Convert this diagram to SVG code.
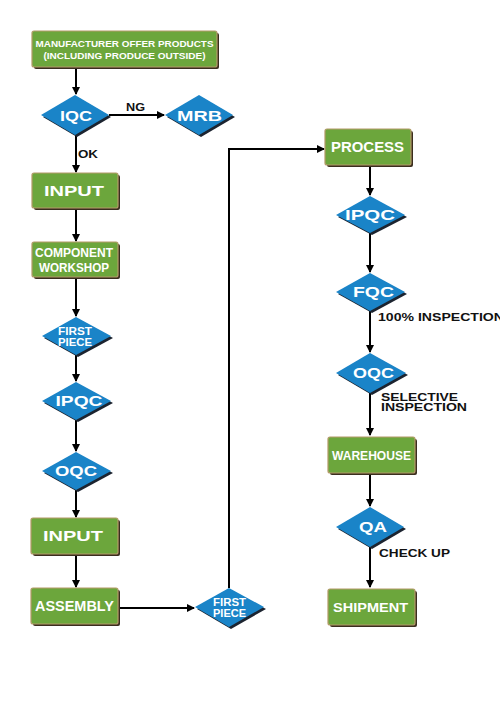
<svg xmlns="http://www.w3.org/2000/svg" width="500" height="714" viewBox="0 0 500 714">
<defs>
<style>
.box{fill:#6ca63c;stroke:#b49a68;stroke-width:1.2}
.bsh{fill:#3a2e1e}
.dia{fill:#1a84c8}
.dsh{fill:#1c2430}
.t{fill:#fff;font-family:"Liberation Sans",Arial,sans-serif;font-weight:bold;text-anchor:middle}
.lbl{fill:#111;font-family:"Liberation Sans",Arial,sans-serif;font-weight:bold}
.c{stroke:#000;stroke-width:2;fill:none}
</style>
<marker id="ah" markerWidth="8" markerHeight="8" refX="7" refY="4" orient="auto" markerUnits="userSpaceOnUse">
<path d="M0,0 L8,4 L0,8 Z" fill="#000"/>
</marker>
</defs>
<rect width="500" height="714" fill="#fff"/>

<g id="connectors">
<line class="c" x1="76" y1="67" x2="76" y2="94" marker-end="url(#ah)"/>
<line class="c" x1="109" y1="115" x2="164" y2="115" marker-end="url(#ah)"/>
<line class="c" x1="76" y1="135" x2="76" y2="172" marker-end="url(#ah)"/>
<line class="c" x1="76" y1="208" x2="76" y2="241" marker-end="url(#ah)"/>
<line class="c" x1="76" y1="277" x2="76" y2="316" marker-end="url(#ah)"/>
<line class="c" x1="76" y1="355" x2="76" y2="381" marker-end="url(#ah)"/>
<line class="c" x1="76" y1="420" x2="76" y2="451" marker-end="url(#ah)"/>
<line class="c" x1="76" y1="490" x2="76" y2="517" marker-end="url(#ah)"/>
<line class="c" x1="76" y1="554" x2="76" y2="587" marker-end="url(#ah)"/>
<line class="c" x1="118" y1="608" x2="194" y2="608" marker-end="url(#ah)"/>
<polyline class="c" points="229,588 229,149 324,149" marker-end="url(#ah)"/>
<line class="c" x1="370" y1="165" x2="370" y2="195" marker-end="url(#ah)"/>
<line class="c" x1="370" y1="233" x2="370" y2="272" marker-end="url(#ah)"/>
<line class="c" x1="370" y1="311" x2="370" y2="352" marker-end="url(#ah)"/>
<line class="c" x1="370" y1="393" x2="370" y2="435" marker-end="url(#ah)"/>
<line class="c" x1="370" y1="473" x2="370" y2="506" marker-end="url(#ah)"/>
<line class="c" x1="370" y1="547" x2="370" y2="587" marker-end="url(#ah)"/>
<text class="lbl" x="126" y="111" font-size="10" textLength="19" lengthAdjust="spacingAndGlyphs">NG</text>
<text class="lbl" x="78" y="158" font-size="10" textLength="20" lengthAdjust="spacingAndGlyphs">OK</text>
<text class="lbl" x="378" y="321" font-size="10.5" textLength="126" lengthAdjust="spacingAndGlyphs">100% INSPECTION</text>
<text class="lbl" x="381" y="401" font-size="10" textLength="77" lengthAdjust="spacingAndGlyphs">SELECTIVE</text>
<text class="lbl" x="381" y="411" font-size="10" textLength="86" lengthAdjust="spacingAndGlyphs">INSPECTION</text>
<text class="lbl" x="379" y="557" font-size="10" textLength="71" lengthAdjust="spacingAndGlyphs">CHECK UP</text>
</g>

<g id="n-manufacturer">
<rect class="bsh" x="34" y="33" width="185" height="36" rx="2"/>
<rect class="box" x="32" y="31" width="185" height="36" rx="2"/>
<text class="t" x="124.5" y="47" font-size="9.5" textLength="178" lengthAdjust="spacingAndGlyphs">MANUFACTURER OFFER PRODUCTS</text>
<text class="t" x="124.5" y="59" font-size="9.5" textLength="162" lengthAdjust="spacingAndGlyphs">(INCLUDING PRODUCE OUTSIDE)</text>
</g>

<g id="n-iqc">
<polygon class="dsh" points="77,97 111,117 77,137 43,117"/>
<polygon class="dia" points="75,95 109,115 75,135 41,115"/>
<text class="t" x="76" y="120.5" font-size="14" textLength="32" lengthAdjust="spacingAndGlyphs">IQC</text>
</g>

<g id="n-mrb">
<polygon class="dsh" points="201,97 235,117 201,137 167,117"/>
<polygon class="dia" points="199,95 233,115 199,135 165,115"/>
<text class="t" x="199.5" y="120.5" font-size="14" textLength="45" lengthAdjust="spacingAndGlyphs">MRB</text>
</g>

<g id="n-input1">
<rect class="bsh" x="34" y="175" width="86" height="35" rx="2"/>
<rect class="box" x="32" y="173" width="86" height="35" rx="2"/>
<text class="t" x="74" y="196" font-size="14" textLength="60" lengthAdjust="spacingAndGlyphs">INPUT</text>
</g>

<g id="n-component">
<rect class="bsh" x="34" y="244" width="86" height="35" rx="2"/>
<rect class="box" x="32" y="242" width="86" height="35" rx="2"/>
<text class="t" x="74" y="257" font-size="12" textLength="78" lengthAdjust="spacingAndGlyphs">COMPONENT</text>
<text class="t" x="74" y="272" font-size="12" textLength="70" lengthAdjust="spacingAndGlyphs">WORKSHOP</text>
</g>

<g id="n-firstpiece1">
<polygon class="dsh" points="78,319 113,338 78,357 44,338"/>
<polygon class="dia" points="76,317 111,336 76,355 42,336"/>
<text class="t" x="75" y="335" font-size="10" textLength="34" lengthAdjust="spacingAndGlyphs">FIRST</text>
<text class="t" x="75" y="346" font-size="10" textLength="34" lengthAdjust="spacingAndGlyphs">PIECE</text>
</g>

<g id="n-ipqc1">
<polygon class="dsh" points="78,384 113,403 78,422 44,403"/>
<polygon class="dia" points="76,382 111,401 76,420 42,401"/>
<text class="t" x="79" y="406" font-size="14" textLength="47" lengthAdjust="spacingAndGlyphs">IPQC</text>
</g>

<g id="n-oqc1">
<polygon class="dsh" points="78,454 113,473 78,492 44,473"/>
<polygon class="dia" points="76,452 111,471 76,490 42,471"/>
<text class="t" x="76" y="476" font-size="14" textLength="42" lengthAdjust="spacingAndGlyphs">OQC</text>
</g>

<g id="n-input2">
<rect class="bsh" x="33" y="520" width="87" height="36" rx="2"/>
<rect class="box" x="31" y="518" width="87" height="36" rx="2"/>
<text class="t" x="73" y="541" font-size="14" textLength="60" lengthAdjust="spacingAndGlyphs">INPUT</text>
</g>

<g id="n-assembly">
<rect class="bsh" x="33" y="590" width="87" height="36" rx="2"/>
<rect class="box" x="31" y="588" width="87" height="36" rx="2"/>
<text class="t" x="74.5" y="611" font-size="14" textLength="79" lengthAdjust="spacingAndGlyphs">ASSEMBLY</text>
</g>

<g id="n-firstpiece2">
<polygon class="dsh" points="231,590 266,609 231,629 197,609"/>
<polygon class="dia" points="229,588 264,607 229,627 195,607"/>
<text class="t" x="229.5" y="605.5" font-size="10" textLength="33" lengthAdjust="spacingAndGlyphs">FIRST</text>
<text class="t" x="229.5" y="617" font-size="10" textLength="33" lengthAdjust="spacingAndGlyphs">PIECE</text>
</g>

<g id="n-process">
<rect class="bsh" x="327" y="131" width="86" height="36" rx="2"/>
<rect class="box" x="325" y="129" width="86" height="36" rx="2"/>
<text class="t" x="367.5" y="152" font-size="14" textLength="73" lengthAdjust="spacingAndGlyphs">PROCESS</text>
</g>

<g id="n-ipqc2">
<polygon class="dsh" points="372,198 407,217 372,235 338,217"/>
<polygon class="dia" points="370,196 405,215 370,233 336,215"/>
<text class="t" x="370" y="220" font-size="14" textLength="50" lengthAdjust="spacingAndGlyphs">IPQC</text>
</g>

<g id="n-fqc">
<polygon class="dsh" points="372,275 407,294 372,313 338,294"/>
<polygon class="dia" points="370,273 405,292 370,311 336,292"/>
<text class="t" x="373.5" y="297" font-size="14" textLength="41" lengthAdjust="spacingAndGlyphs">FQC</text>
</g>

<g id="n-oqc2">
<polygon class="dsh" points="372,355 408,375 372,395 338,375"/>
<polygon class="dia" points="370,353 406,373 370,393 336,373"/>
<text class="t" x="373.5" y="378" font-size="14" textLength="41" lengthAdjust="spacingAndGlyphs">OQC</text>
</g>

<g id="n-warehouse">
<rect class="bsh" x="330" y="439" width="87" height="36" rx="2"/>
<rect class="box" x="328" y="437" width="87" height="36" rx="2"/>
<text class="t" x="371.5" y="460" font-size="13" textLength="79" lengthAdjust="spacingAndGlyphs">WAREHOUSE</text>
</g>

<g id="n-qa">
<polygon class="dsh" points="372,509 406,529 372,549 338,529"/>
<polygon class="dia" points="370,507 404,527 370,547 336,527"/>
<text class="t" x="373" y="532" font-size="14" textLength="28" lengthAdjust="spacingAndGlyphs">QA</text>
</g>

<g id="n-shipment">
<rect class="bsh" x="330" y="591" width="87" height="36" rx="2"/>
<rect class="box" x="328" y="589" width="87" height="36" rx="2"/>
<text class="t" x="370.5" y="612" font-size="13" textLength="75" lengthAdjust="spacingAndGlyphs">SHIPMENT</text>
</g>
</svg>
